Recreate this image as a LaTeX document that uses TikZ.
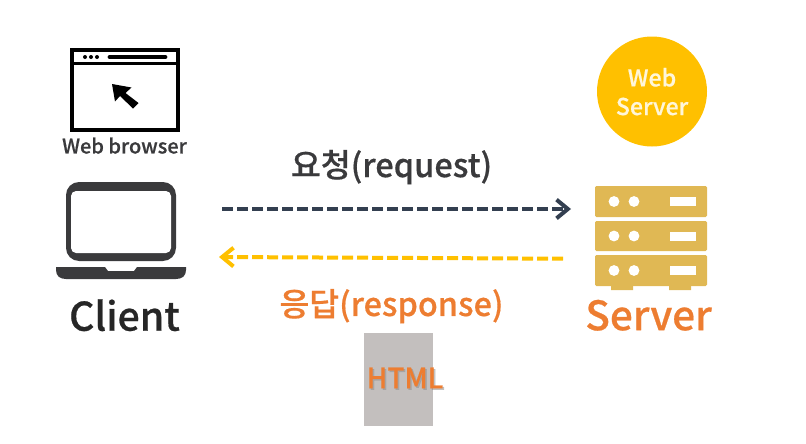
\documentclass[tikz,border=0pt]{standalone}
\usepackage{fontspec}
\usetikzlibrary{arrows.meta}
\setmainfont[FakeBold=0.5]{Noto Sans CJK KR Medium}
\definecolor{ink}{HTML}{3A3A3C}
\definecolor{navy}{HTML}{333F50}
\definecolor{amber}{HTML}{FFC000}
\definecolor{orangetxt}{HTML}{ED7D31}
\definecolor{rack}{HTML}{E0B854}
\definecolor{paper}{HTML}{C3BFBE}
\tikzset{
  label text/.style={inner sep=0pt,font=#1},
  rack unit/.style={fill=rack,rounded corners=1.1pt},
  rack hole/.style={fill=white},
  flow/.style={line width=3pt,dash pattern=on 8.25pt off 3pt,-{Straight Barb[length=8.5pt,width=14pt,line width=3pt]}},
}
\begin{document}
\begin{tikzpicture}[x=0.75pt,y=-0.75pt,every node/.append style={text depth=0pt}]
\useasboundingbox (0,0) rectangle (806,443);
% browser
\draw[black,line width=2.6pt] (72,50) rectangle (178,130);
\draw[black,line width=2.6pt] (72,63.5) -- (178,63.5);
\fill[black] (85,57) circle (2) (91,57) circle (2) (97,57) circle (2);
\draw[black,line width=3.6pt,line cap=round] (110,57) -- (165,57);
\fill[black] (112,84) -- (131.5,87.5) -- (125.5,93) -- (138.5,103) -- (133,108.5) -- (120,96) -- (115,101.5) -- cycle;
\node[label text={\fontsize{15pt}{16pt}\selectfont},text=ink] (browser) at (124.5,145.5) {Web browser};
% laptop
\fill[ink,rounded corners=9.8pt] (66,182) rectangle (176,261);
\fill[white,rounded corners=3.8pt] (71,191) rectangle (171,253);
\fill[ink] (56,267) -- (105,267) -- (108,271) -- (134,271) -- (137,267) -- (186,267) -- (186,270) .. controls (186,276) and (182,279) .. (176,279) -- (66,279) .. controls (60,279) and (56,276) .. (56,270) -- cycle;
\node[label text={\fontsize{29.5pt}{30pt}\selectfont},text=black!85] (client) at (124.5,315) {Client};
% web server badge
\node[circle,fill=amber,minimum size=82.5pt,inner sep=0pt,align=center,text=white!85!amber,font=\fontsize{17.4pt}{21.5pt}\selectfont] (websrv) at (652,91.5) {Web\\Server};
% server rack
\fill[rack] (611,284) rectangle (633,290) (669,284) rectangle (691,290);
\foreach \t/\b in {186/217,221/251,255/286}{
  \fill[rack unit] (595,\t) rectangle (707,\b);
  \pgfmathsetmacro{\m}{(\t+\b)/2}
  \fill[rack hole] (614,\m) circle (5.4) (634,\m) circle (5.4);
  \fill[rack hole] (670,\m-4.5) rectangle (696,\m+4.5);
}
\node[label text={\fontsize{30.4pt}{30pt}\selectfont},text=orangetxt] (server) at (648.5,315) {Server};
% flows
\coordinate (reqa) at (222,209);
\coordinate (reqb) at (571,209);
\coordinate (resa) at (563,258.7);
\coordinate (resb) at (219,257);
\draw[flow,navy] (reqa) -- (reqb);
\draw[flow,amber] (resa) -- (resb);
\node[label text={\fontsize{24.4pt}{24pt}\selectfont},text=ink] (req) at (391.5,163.5) {요청(request)};
\node[label text={\fontsize{24.3pt}{24pt}\selectfont},text=orangetxt] (res) at (391.5,302.5) {응답(response)};
% document
\node[fill=paper,minimum width=51.75pt,minimum height=69.75pt,inner sep=0pt] (doc) at (398.5,379.5) {};
\node[label text={\fontsize{21pt}{20pt}\selectfont},text=black!45,opacity=0.5] at (406.5,379.5) {HTML};
\node[label text={\fontsize{21pt}{20pt}\selectfont},text=orangetxt] (html) at (405,378) {HTML};
\end{tikzpicture}
\end{document}
